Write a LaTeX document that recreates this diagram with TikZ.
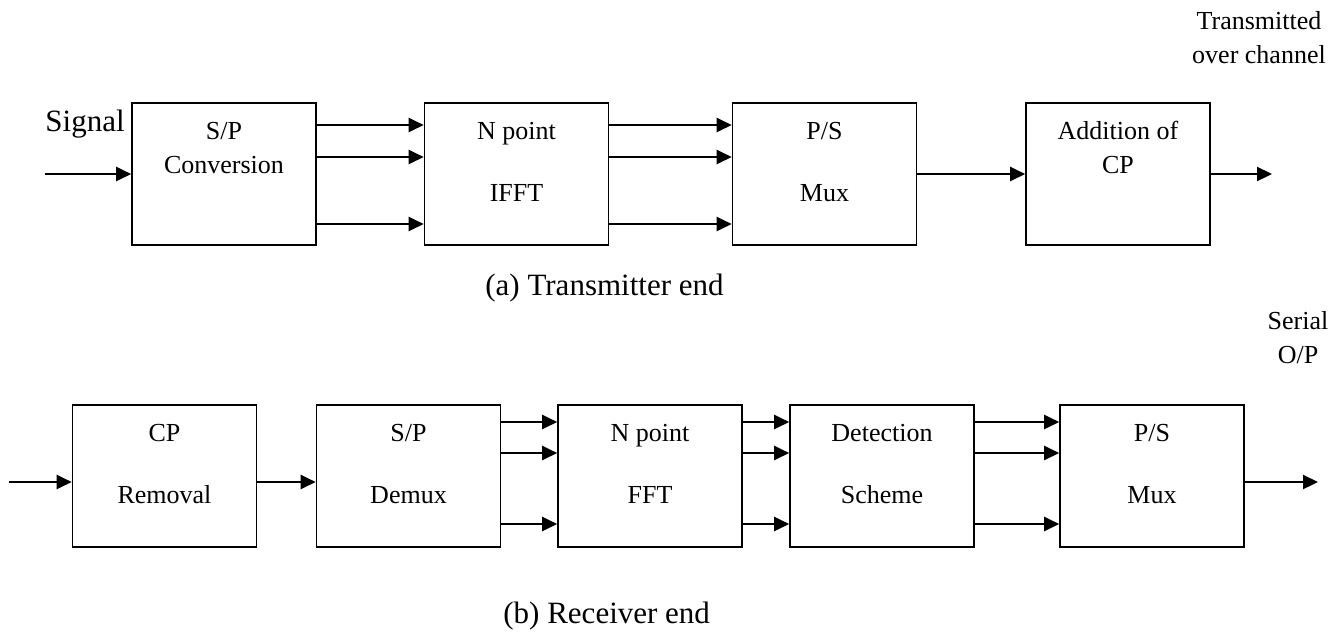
\documentclass[tikz,border=0pt]{standalone}
\usepackage{fontspec}
\setmainfont{Liberation Serif}
\usetikzlibrary{arrows.meta}
\usetikzlibrary{positioning}
\tikzset{
  block/.style={draw=black,line width=0.8pt,minimum width=92pt,minimum height=71pt,inner sep=0pt},
  lbl/.style={font=\fontsize{13}{17}\selectfont,align=center,anchor=base,inner sep=0pt},
  big/.style={font=\fontsize{15.5}{18}\selectfont,anchor=base west,inner sep=0pt},
  sig/.style={-{Triangle[length=7.5pt,width=7pt]},line width=1.1pt}
}

\begin{document}
\begin{tikzpicture}[x=0.5pt,y=-0.5pt]
\useasboundingbox (0,0) rectangle (1343,633);
% transmitter end
\node[block] (sp) at (224,174) {};
\node[block] (ifft) at (516.5,174) {};
\node[block] (ps) at (824.5,174) {};
\node[block] (addcp) at (1118,174) {};
\coordinate (in1) at (45,174);
\coordinate (out1) at (1272,174);
\draw[sig] (in1) -- (sp);
\foreach \dy in {24.5,8.5,-25}
{
\draw[sig] ([yshift=\dy pt]sp.east) -- ([yshift=\dy pt]ifft.west);
\draw[sig] ([yshift=\dy pt]ifft.east) -- ([yshift=\dy pt]ps.west);
}
\draw[sig] (ps) -- (addcp);
\draw[sig] (addcp) -- (out1);
\node[big] (siglbl) at (45,131) {Signal};
\node[lbl] (splbl) at (224,173) {S/P\\Conversion};
\node[lbl] (ifftlbl) at (516.5,201) {N point\\[14pt]IFFT};
\node[lbl] (pslbl) at (824.5,201) {P/S\\[14pt]Mux};
\node[lbl] (addlbl) at (1118,173) {Addition of\\CP};
\node[lbl] (outlbl) at (1259,63) {Transmitted\\over channel};
\node[big] (capa) at (485,295) {(a) Transmitter end};
% receiver end
\node[block] (rem) at (164.5,476) {};
\node[block] (demux) at (408.5,476) {};
\node[block] (fft) at (650,476) {};
\node[block] (det) at (882,476) {};
\node[block] (mux) at (1152,476) {};
\coordinate (in2) at (9,482);
\coordinate (out2) at (1318,482);
\draw[sig] (in2) -- (in2 -| rem.west);
\draw[sig] ([yshift=-3pt]rem.east) -- ([yshift=-3pt]demux.west);
\foreach \dy in {27,11.5,-24}
{
\draw[sig] ([yshift=\dy pt]demux.east) -- ([yshift=\dy pt]fft.west);
\draw[sig] ([yshift=\dy pt]fft.east) -- ([yshift=\dy pt]det.west);
\draw[sig] ([yshift=\dy pt]det.east) -- ([yshift=\dy pt]mux.west);
}
\draw[sig] ([yshift=-3pt]mux.east) -- (out2);
\node[lbl] (remlbl) at (164.5,503) {CP\\[14pt]Removal};
\node[lbl] (demuxlbl) at (408.5,503) {S/P\\[14pt]Demux};
\node[lbl] (fftlbl) at (650,503) {N point\\[14pt]FFT};
\node[lbl] (detlbl) at (882,503) {Detection\\[14pt]Scheme};
\node[lbl] (muxlbl) at (1152,503) {P/S\\[14pt]Mux};
\node[lbl] (serlbl) at (1298,363) {Serial\\O/P};
\node[big] (capb) at (503,623) {(b) Receiver end};
\end{tikzpicture}
\end{document}
